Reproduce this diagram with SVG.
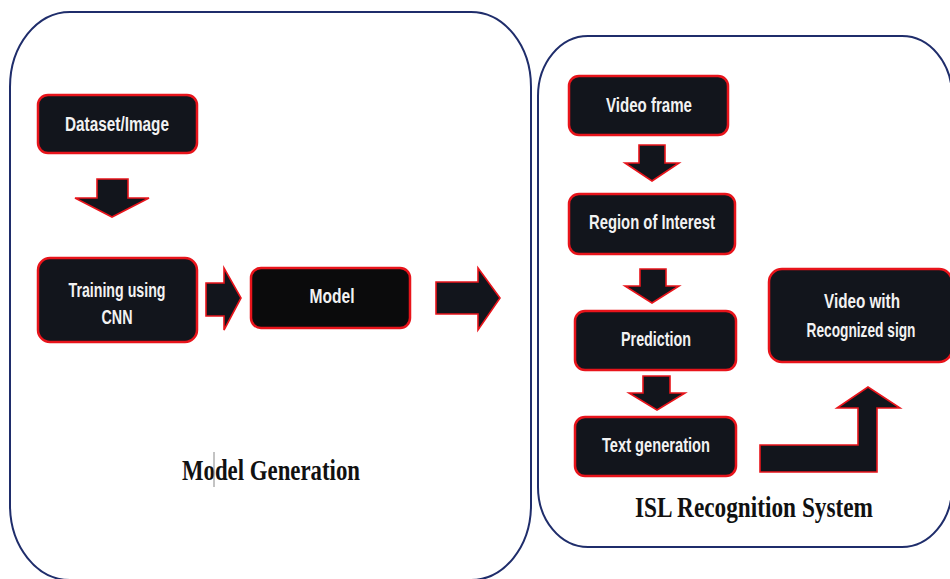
<svg xmlns="http://www.w3.org/2000/svg" width="950" height="579" viewBox="0 0 950 579">
<style>
.panel{fill:#ffffff;stroke:#1f2d6b;stroke-width:2}
.node{fill:#12151c;stroke:#e8141b;stroke-width:2.5}
.arrow{fill:#12151c;stroke:#e8141b;stroke-width:1.6;stroke-linejoin:miter}
.lbl{font-family:"Liberation Sans",Arial,sans-serif;font-weight:bold;font-size:15.5px;fill:#f2f2f2;text-anchor:middle}
.title{font-family:"Liberation Serif","Times New Roman",serif;font-weight:bold;font-size:23px;fill:#111111;text-anchor:middle}
</style>
<rect width="950" height="579" fill="#ffffff"/>
<g id="panel-model-generation">
<rect class="panel" x="10" y="12" width="521" height="568" rx="60" ry="75"/>
<text class="title" transform="translate(271,480) scale(1,1.25)" textLength="178" lengthAdjust="spacingAndGlyphs">Model Generation</text>
<line x1="214" y1="452" x2="214" y2="487" stroke="#888888" stroke-width="1"/>
</g>
<g id="panel-isl">
<rect class="panel" x="538" y="36" width="414" height="511" rx="50" ry="60"/>
<text class="title" transform="translate(754,517) scale(1,1.3)" textLength="238" lengthAdjust="spacingAndGlyphs">ISL Recognition System</text>
</g>
<g id="connectors">
<path class="arrow" d="M97,179 L128,179 L128,198 L149,198 L112,217 L75,198 L97,198 Z"/>
<path class="arrow" d="M206,283 L224,283 L224,268 L241,298 L224,330 L224,316 L206,316 Z"/>
<path class="arrow" d="M436,282 L478,282 L478,268 L500,298 L478,330 L478,314 L436,314 Z"/>
<path class="arrow" d="M639,145 L665,145 L665,163 L679,163 L652,181 L625,163 L639,163 Z"/>
<path class="arrow" d="M640,269 L666,269 L666,286 L679,286 L652,303 L625,286 L640,286 Z"/>
<path class="arrow" d="M643,376 L670,376 L670,393 L685,393 L657,410 L629,393 L643,393 Z"/>
<path class="arrow" d="M760,445 L858,445 L858,408 L837,408 L868,387 L900,408 L877,408 L877,472 L760,472 Z"/>
</g>
<g id="node-dataset">
<rect class="node" x="38" y="95" width="159" height="58" rx="10"/>
<text class="lbl" transform="translate(117,131) scale(1,1.28)" textLength="104" lengthAdjust="spacingAndGlyphs">Dataset/Image</text>
</g>
<g id="node-training">
<rect class="node" x="38" y="258" width="159" height="84" rx="12"/>
<text class="lbl" transform="translate(117,297) scale(1,1.28)" textLength="97" lengthAdjust="spacingAndGlyphs">Training using</text>
<text class="lbl" transform="translate(117,324) scale(1,1.28)" textLength="31" lengthAdjust="spacingAndGlyphs">CNN</text>
</g>
<g id="node-model">
<rect class="node" x="251" y="268" width="159" height="60" rx="10" style="fill:#0b0b0c"/>
<text class="lbl" transform="translate(332,303) scale(1,1.28)" textLength="45" lengthAdjust="spacingAndGlyphs">Model</text>
</g>
<g id="node-video-frame">
<rect class="node" x="569" y="76" width="159" height="59" rx="10"/>
<text class="lbl" transform="translate(649,112) scale(1,1.28)" textLength="86" lengthAdjust="spacingAndGlyphs">Video frame</text>
</g>
<g id="node-roi">
<rect class="node" x="569" y="194" width="166" height="60" rx="10"/>
<text class="lbl" transform="translate(652,229) scale(1,1.28)" textLength="126" lengthAdjust="spacingAndGlyphs">Region of Interest</text>
</g>
<g id="node-prediction">
<rect class="node" x="575" y="311" width="161" height="59" rx="10"/>
<text class="lbl" transform="translate(656,346) scale(1,1.28)" textLength="70" lengthAdjust="spacingAndGlyphs">Prediction</text>
</g>
<g id="node-text-generation">
<rect class="node" x="575" y="417" width="161" height="59" rx="10"/>
<text class="lbl" transform="translate(656,452) scale(1,1.28)" textLength="108" lengthAdjust="spacingAndGlyphs">Text generation</text>
</g>
<g id="node-video-recognized">
<rect class="node" x="769" y="269" width="183" height="93" rx="13"/>
<text class="lbl" transform="translate(862,308) scale(1,1.28)" textLength="76" lengthAdjust="spacingAndGlyphs">Video with</text>
<text class="lbl" transform="translate(861,337) scale(1,1.28)" textLength="109" lengthAdjust="spacingAndGlyphs">Recognized sign</text>
</g>
</svg>
